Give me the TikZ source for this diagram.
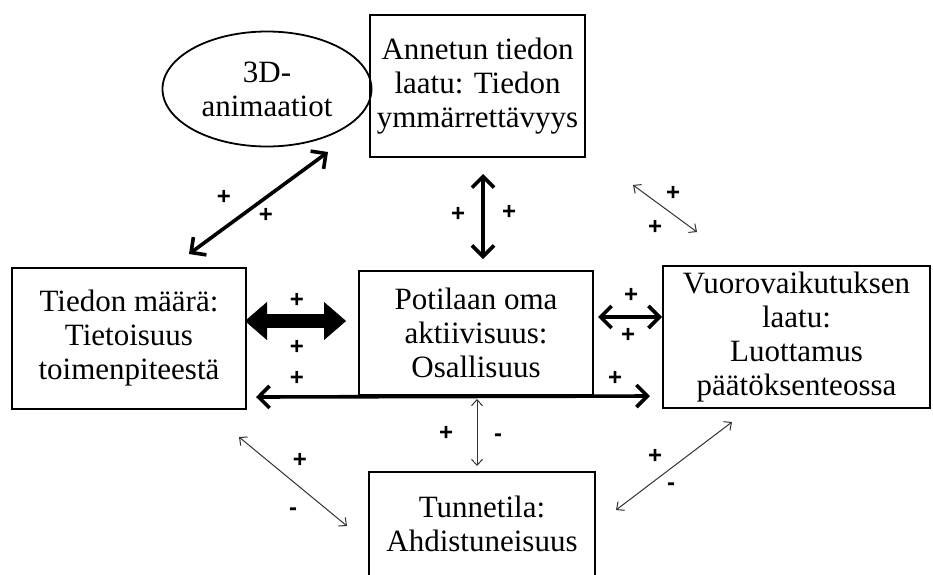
\documentclass[tikz,border=0pt]{standalone}
\usepackage{fontspec}
\setmainfont{Liberation Serif}
\setsansfont{Liberation Sans}
\usetikzlibrary{shapes,arrows.meta,positioning}

\begin{document}
\begin{tikzpicture}[x=1pt,y=-1pt,
  box/.style={draw, line width=1.8pt, align=center, inner sep=0pt,
    font=\fontsize{31}{34}\selectfont},
  strong/.style={line width=3.6pt, line cap=round,
    {Straight Barb[length=11pt,width=22pt]}-{Straight Barb[length=11pt,width=22pt]}},
  heavy/.style={line width=14pt,
    {Triangle[length=22pt,width=38pt,line width=0.4pt]}-{Triangle[length=22pt,width=38pt,line width=0.4pt]}},
  weak/.style={line width=1pt, black!80,
    {Straight Barb[length=6pt,width=11pt]}-{Straight Barb[length=6pt,width=11pt]}},
  sign/.style={font=\sffamily\bfseries\fontsize{24}{24}\selectfont, inner sep=0pt}]
\useasboundingbox (0,0) rectangle (933,574);

% Boxes
\node[box, minimum width=215pt, minimum height=142pt] (laatu) at (477.5,86) {Annetun tiedon\\laatu: Tiedon\\ymmärrettävyys};
\node[box, ellipse, minimum width=209pt, minimum height=115pt] (anim) at (267,89) {3D-\\animaatiot};
\node[box, minimum width=234pt, minimum height=141pt] (maara) at (129,338.5) {Tiedon määrä:\\Tietoisuus\\toimenpiteestä};
\node[box, minimum width=234pt, minimum height=124pt] (aktiiv) at (476,333) {Potilaan oma\\aktiivisuus:\\Osallisuus};
\node[box, minimum width=267pt, minimum height=142pt] (vuoro) at (796.5,337) {Vuorovaikutuksen\\laatu:\\Luottamus\\päätöksenteossa};
\node[box, minimum width=226pt, minimum height=104pt] (tunne) at (482,524) {Tunnetila:\\Ahdistuneisuus};

% Arrow ends
\coordinate (animA) at (328,152);  \coordinate (animB) at (189,254);
\coordinate (laatuA) at (483,174); \coordinate (laatuB) at (483,259);
\coordinate (diagA) at (633,185);  \coordinate (diagB) at (697,232);
\coordinate (fatA) at (245,321);   \coordinate (fatB) at (346,321);
\coordinate (vuoroA) at (598,317); \coordinate (vuoroB) at (662,317);
\coordinate (longA) at (256,397);  \coordinate (longB) at (650,396);
\coordinate (tunneA) at (477,399); \coordinate (tunneB) at (477,466);
\coordinate (leftA) at (239,437);  \coordinate (leftB) at (347,526);
\coordinate (rightA) at (732,422); \coordinate (rightB) at (616,510);

% Connectors
\draw[strong] (animA) -- (animB);
\draw[strong] (laatuA) -- (laatuB);
\draw[weak] (diagA) -- (diagB);
\draw[heavy] (fatA) -- (fatB);
\draw[strong] (vuoroA) -- (vuoroB);
\draw[strong] (longA) -- (longB);
\draw[weak] (tunneA) -- (tunneB);
\draw[weak] (leftA) -- (leftB);
\draw[weak] (rightA) -- (rightB);

% Signs
\node[sign] (s1) at (224,197) {+};
\node[sign] (s2) at (266,215) {+};
\node[sign] (s3) at (458,214) {+};
\node[sign] (s4) at (509,212) {+};
\node[sign] (s5) at (673,193) {+};
\node[sign] (s6) at (655,227) {+};
\node[sign] (s7) at (297,300) {+};
\node[sign] (s8) at (297,347) {+};
\node[sign] (s9) at (631,295) {+};
\node[sign] (s10) at (628,335) {+};
\node[sign] (s11) at (297,378) {+};
\node[sign] (s12) at (615,378) {+};
\node[sign] (s13) at (446,433) {+};
\node[sign] (s14) at (498,438) {-};
\node[sign] (s15) at (300,460) {+};
\node[sign] (s16) at (293,512) {-};
\node[sign] (s17) at (655,456) {+};
\node[sign] (s18) at (671,487) {-};
\end{tikzpicture}
\end{document}
